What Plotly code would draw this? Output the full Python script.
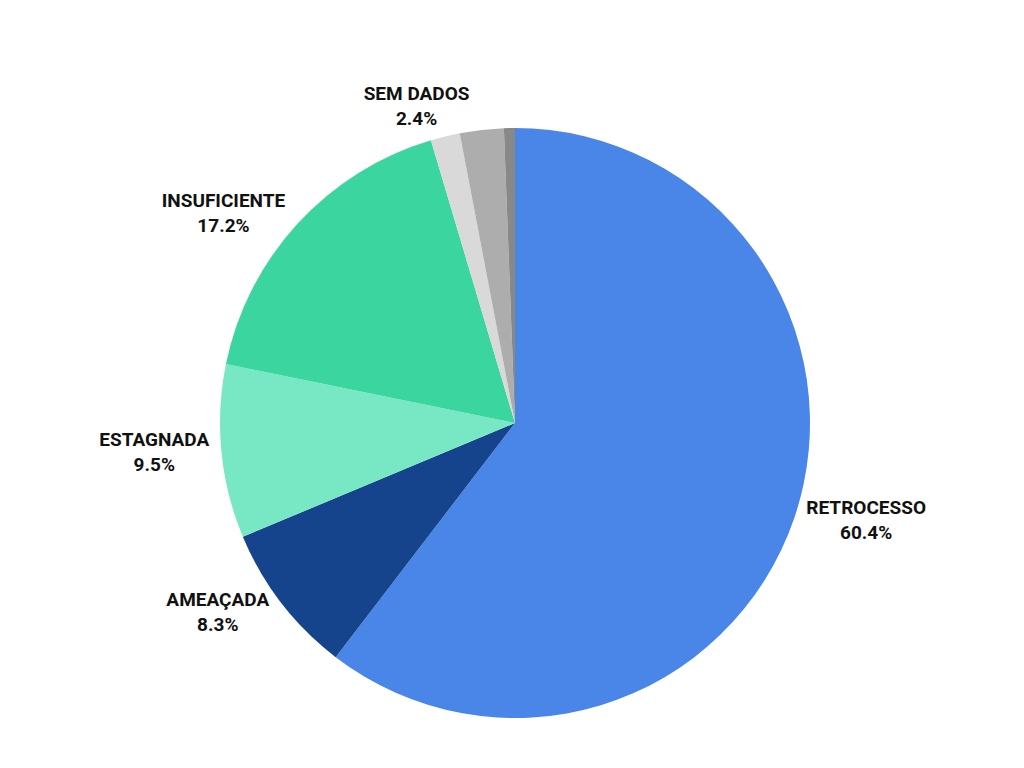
import plotly.graph_objects as go

labels = ["RETROCESSO", "AMEAÇADA", "ESTAGNADA", "INSUFICIENTE", "OUTROS", "SEM DADOS", "N/A"]
values = [60.4, 8.3, 9.5, 17.2, 1.6, 2.4, 0.6]
colors = ["#4a86e8", "#16448c", "#78e8c4", "#3bd5a0", "#d9d9d9", "#adadad", "#888888"]
shown = [True, True, True, True, False, True, False]

texts = [f"<b>{l}</b><br><b>{v}%</b>" if s else "" for l, v, s in zip(labels, values, shown)]

fig = go.Figure(go.Pie(
    labels=labels, values=values, sort=False, direction="clockwise", rotation=0,
    marker=dict(colors=colors, line=dict(width=0)),
    text=texts, textinfo="text", textposition="outside",
    textfont=dict(family="Roboto", size=19, color="#111111"),
    showlegend=False, hoverinfo="label+value",
))
fig.update_layout(
    width=1024, height=768, paper_bgcolor="white",
    margin=dict(l=212, r=222, t=120, b=58),
)
fig.write_html("out.html")
